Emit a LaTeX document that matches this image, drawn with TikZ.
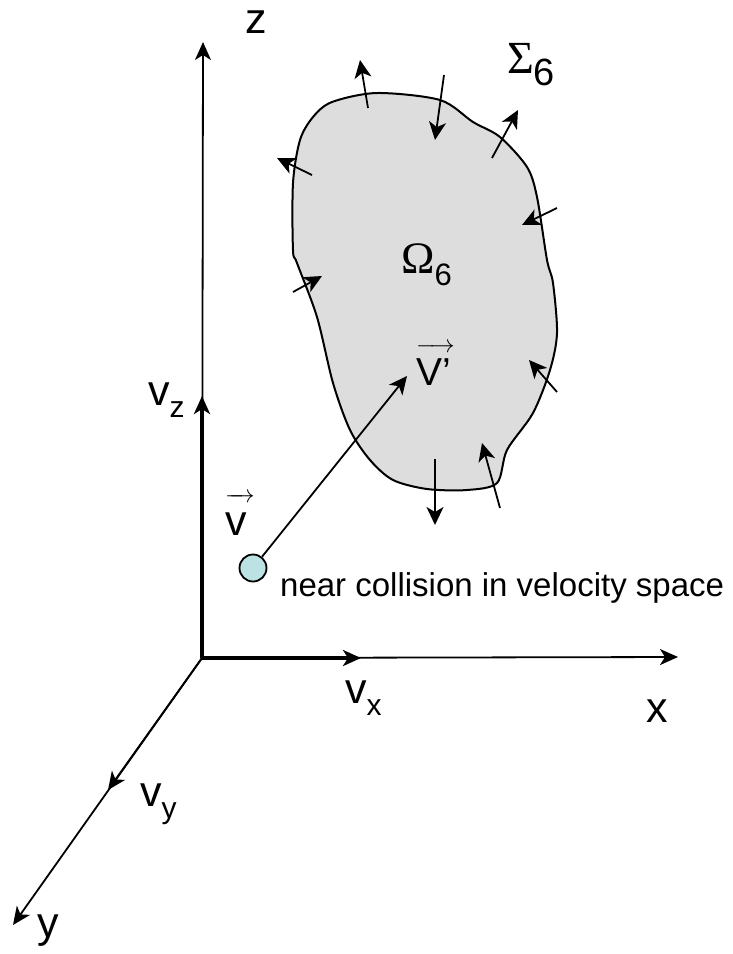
\documentclass[tikz,border=0pt]{standalone}
\usepackage{amsmath}
\usepackage{fontspec}
\setmainfont{Liberation Sans}
\newfontfamily\greco{Liberation Serif}
\usetikzlibrary{positioning,arrows.meta}

\definecolor{grigioreg}{RGB}{221,221,221}
\definecolor{palla}{RGB}{189,226,228}

\newcommand{\ped}[2][30]{\raisebox{-12pt}{\fontsize{#1}{#1}\selectfont #2}}

\tikzset{
  asse/.style={line width=1.8pt,-{Stealth[length=18pt,width=16pt,inset=5pt]}},
  assevel/.style={line width=3.2pt,-{Stealth[length=18pt,width=16pt,inset=5pt]}},
  flusso/.style={line width=1.8pt,-{Stealth[length=18pt,width=17pt,inset=5pt]}},
  etich/.style={font=\fontsize{43}{48}\selectfont,inner sep=0pt},
}

\begin{document}
\begin{tikzpicture}[x=1pt,y=-1pt]
  \useasboundingbox (0,0) rectangle (733,954);

  % regione Omega_6
  \draw[line width=2pt,fill=grigioreg] plot [smooth cycle,tension=0.5] coordinates {
    (332,102) (377,93) (440,100) (473,122) (500,137) (527,167) (537,197)
    (547,260) (553,283) (557,333) (550,370) (533,413) (507,450) (497,483)
    (467,490) (427,489) (393,480) (370,460) (350,430) (333,383) (317,317)
    (297,263) (293,250) (293,183) (300,140) (313,117)};

  % frecce sul bordo
  \draw[flusso] (368,108) -- (360,60);
  \draw[flusso] (444,75) -- (435,140);
  \draw[flusso] (492,158) -- (518,110);
  \draw[flusso] (312,175) -- (277,158);
  \draw[flusso] (557,208) -- (522,225);
  \draw[flusso] (293,292) -- (322,276);
  \draw[flusso] (557,392) -- (529,360);
  \draw[flusso] (435,459) -- (435,525);
  \draw[flusso] (500,508) -- (482,443);

  % assi
  \coordinate (O) at (202,658);
  \coordinate (zfin) at (203,42);
  \coordinate (xfin) at (678,657);
  \coordinate (yfin) at (13,925);
  \coordinate (vzfin) at (202,396);
  \coordinate (vxfin) at (361,658);
  \coordinate (vyfin) at (108,790);
  \draw[asse] (O) -- (zfin);
  \draw[asse] (O) -- (xfin);
  \draw[asse] (O) -- (yfin);
  \draw[asse] (O) -- (vyfin);
  \draw[assevel] (O) -- (vzfin);
  \draw[assevel] (O) -- (vxfin);

  % etichette assi
  \node[etich] (lz) at (256,22) {z};
  \node[etich] (lx) at (657,711) {x};
  \node[etich] (ly) at (48,931) {y};
  \node[etich,anchor=base west] (lvz) at (148,405) {v\ped{z}};
  \node[etich,anchor=base west] (lvx) at (345,703) {v\ped{x}};
  \node[etich,anchor=base west] (lvy) at (140,806) {v\ped{y}};

  % velocita'
  \node[circle,draw,line width=1.8pt,fill=palla,minimum size=27pt,inner sep=0pt] (palla) at (253,568) {};
  \coordinate (vp) at (407,376);
  \draw[flusso] (palla) -- (vp);
  \node[etich,anchor=base west] (lv) at (225,535) {$\overrightarrow{\mbox{v\hspace{8pt}\rule{0pt}{33pt}}}$};
  \node[font=\fontsize{39}{44}\selectfont,inner sep=0pt,anchor=base west] (lvp) at (416,385) {$\overrightarrow{\mbox{V’\hspace{4pt}\rule{0pt}{33pt}}}$};
  \node[font=\fontsize{33}{38}\selectfont,inner sep=0pt,anchor=base west] (nota) at (280,596) {near collision in velocity space};

  % etichette regione
  \node[font=\fontsize{46}{50}\greco,inner sep=0pt,anchor=base west] (lsig) at (507,73) {Σ\ped[38]{\fontspec{Liberation Sans}6}};
  \node[font=\fontsize{45}{50}\greco,inner sep=0pt,anchor=base west] (lom) at (401,273) {Ω\ped[31]{\fontspec{Liberation Sans}6}};
\end{tikzpicture}
\end{document}
